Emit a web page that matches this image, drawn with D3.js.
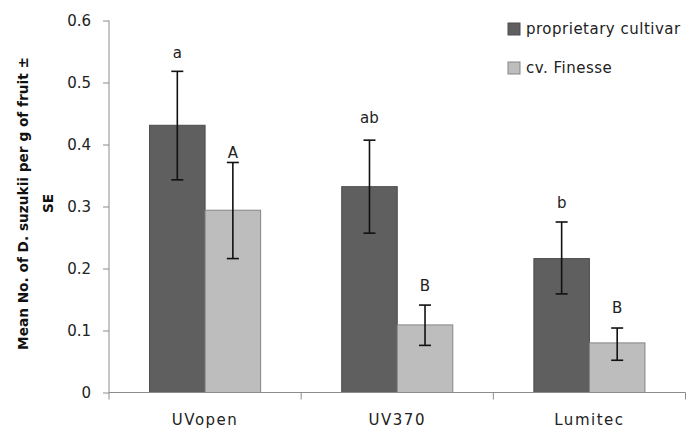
<!DOCTYPE html>
<html>
<head>
<meta charset="utf-8">
<script src="https://cdn.jsdelivr.net/npm/d3@7"></script>
<style>
  body { margin: 0; background: #fff; }
  svg { display: block; font-family: "DejaVu Sans", Verdana, sans-serif; }
</style>
</head>
<body>
<svg id="chart" width="688" height="428"></svg>
<script>
// data
const categories = ["UVopen", "UV370", "Lumitec"];
const seriesNames = ["proprietary cultivar", "cv. Finesse"];
const meanProprietary = [0.431, 0.332, 0.216];
const meanFinesse = [0.294, 0.109, 0.080];
const upperProprietary = [0.518, 0.407, 0.275];
const lowerProprietary = [0.343, 0.257, 0.159];
const upperFinesse = [0.371, 0.141, 0.104];
const lowerFinesse = [0.216, 0.076, 0.052];
const lettersProprietary = ["a", "ab", "b"];
const lettersFinesse = ["A", "B", "B"];
const letterPosProprietary = [0.540, 0.434, 0.298];
const letterPosFinesse = [0.379, 0.163, 0.128];
const yTicks = [0, 0.1, 0.2, 0.3, 0.4, 0.5, 0.6];

const width = 688, height = 428;
const margin = { top: 20.5, right: 2.5, bottom: 35.5, left: 109 };
const fills = ["#5f5f5f", "#bdbdbd"];
const strokes = ["#4c4c4c", "#858585"];

const rows = [];
categories.forEach((c, i) => {
  rows.push({ cat: c, s: 0, v: meanProprietary[i], hi: upperProprietary[i], lo: lowerProprietary[i],
              letter: lettersProprietary[i], lp: letterPosProprietary[i] });
  rows.push({ cat: c, s: 1, v: meanFinesse[i], hi: upperFinesse[i], lo: lowerFinesse[i],
              letter: lettersFinesse[i], lp: letterPosFinesse[i] });
});

const svg = d3.select("#chart");

const x0 = d3.scaleBand()
  .domain(categories)
  .range([margin.left, width - margin.right])
  .padding(0);

const x1 = d3.scaleBand()
  .domain([0, 1])
  .range([0, x0.bandwidth()])
  .paddingInner(0)
  .paddingOuter(0.73);

const y = d3.scaleLinear()
  .domain([0, 0.6])
  .range([height - margin.bottom, margin.top]);

// bars
svg.append("g")
  .selectAll("rect")
  .data(rows)
  .join("rect")
  .attr("x", d => x0(d.cat) + x1(d.s))
  .attr("y", d => y(d.v))
  .attr("width", x1.bandwidth())
  .attr("height", d => y(0) - y(d.v))
  .attr("fill", d => fills[d.s])
  .attr("stroke", d => strokes[d.s])
  .attr("stroke-width", 1);

// error bars
const err = svg.append("g").attr("stroke", "#111").attr("stroke-width", 1.6);
rows.forEach(d => {
  const cx = x0(d.cat) + x1(d.s) + x1.bandwidth() / 2;
  err.append("line").attr("x1", cx).attr("x2", cx).attr("y1", y(d.hi)).attr("y2", y(d.lo));
  err.append("line").attr("x1", cx - 6).attr("x2", cx + 6).attr("y1", y(d.hi)).attr("y2", y(d.hi));
  err.append("line").attr("x1", cx - 6).attr("x2", cx + 6).attr("y1", y(d.lo)).attr("y2", y(d.lo));
});

// significance letters
svg.append("g")
  .selectAll("text")
  .data(rows)
  .join("text")
  .attr("x", d => x0(d.cat) + x1(d.s) + x1.bandwidth() / 2)
  .attr("y", d => y(d.lp))
  .attr("text-anchor", "middle")
  .attr("font-size", 15)
  .attr("fill", "#222")
  .text(d => d.letter);

// y axis
const yAxis = svg.append("g")
  .attr("transform", `translate(${margin.left},0)`)
  .call(d3.axisLeft(y).tickValues(yTicks).tickSize(6).tickPadding(12)
    .tickFormat(d => d === 0 ? "0" : d3.format(".1f")(d)));
yAxis.select(".domain").attr("stroke", "#8c8c8c").attr("d", `M0,${y(0.6)}V${y(0)}`);
yAxis.selectAll(".tick line").attr("stroke", "#8c8c8c");
yAxis.selectAll(".tick text").attr("font-size", 15).attr("fill", "#222")
  .attr("font-family", "'DejaVu Sans', Verdana, sans-serif");

// x axis, ticks between categories
const xAxis = svg.append("g")
  .attr("transform", `translate(0,${y(0)})`);
xAxis.append("line")
  .attr("x1", margin.left).attr("x2", width - margin.right)
  .attr("stroke", "#8c8c8c");
xAxis.selectAll("line.tk")
  .data(categories.concat(["end"]))
  .join("line")
  .attr("class", "tk")
  .attr("x1", (d, i) => i < categories.length ? x0(d) : x0(categories[i - 1]) + x0.bandwidth())
  .attr("x2", (d, i) => i < categories.length ? x0(d) : x0(categories[i - 1]) + x0.bandwidth())
  .attr("y1", 0).attr("y2", 7)
  .attr("stroke", "#8c8c8c");
xAxis.selectAll("text")
  .data(categories)
  .join("text")
  .attr("x", d => x0(d) + x0.bandwidth() / 2)
  .attr("y", 32)
  .attr("text-anchor", "middle")
  .attr("font-size", 15)
  .attr("letter-spacing", 1.5)
  .attr("fill", "#222")
  .text(d => d);

// y title, two lines rotated
const title = svg.append("text")
  .attr("transform", "translate(0,203.5) rotate(-90)")
  .attr("text-anchor", "middle")
  .attr("font-size", 13.7)
  .attr("font-weight", "bold")
  .attr("fill", "#111");
title.append("tspan").attr("x", 0).attr("y", 28).text("Mean No. of D. suzukii per g of fruit ±");
title.append("tspan").attr("x", 0).attr("y", 53).text("SE");

// legend
const legend = svg.append("g").attr("transform", "translate(508,23)");
seriesNames.forEach((name, i) => {
  const g = legend.append("g").attr("transform", `translate(0,${i * 39})`);
  g.append("rect").attr("width", 12).attr("height", 12)
    .attr("fill", fills[i]).attr("stroke", strokes[i]);
  g.append("text").attr("x", 18).attr("y", 11)
    .attr("font-size", 15).attr("letter-spacing", 0.5).attr("fill", "#222").text(name);
});
</script>
</body>
</html>
